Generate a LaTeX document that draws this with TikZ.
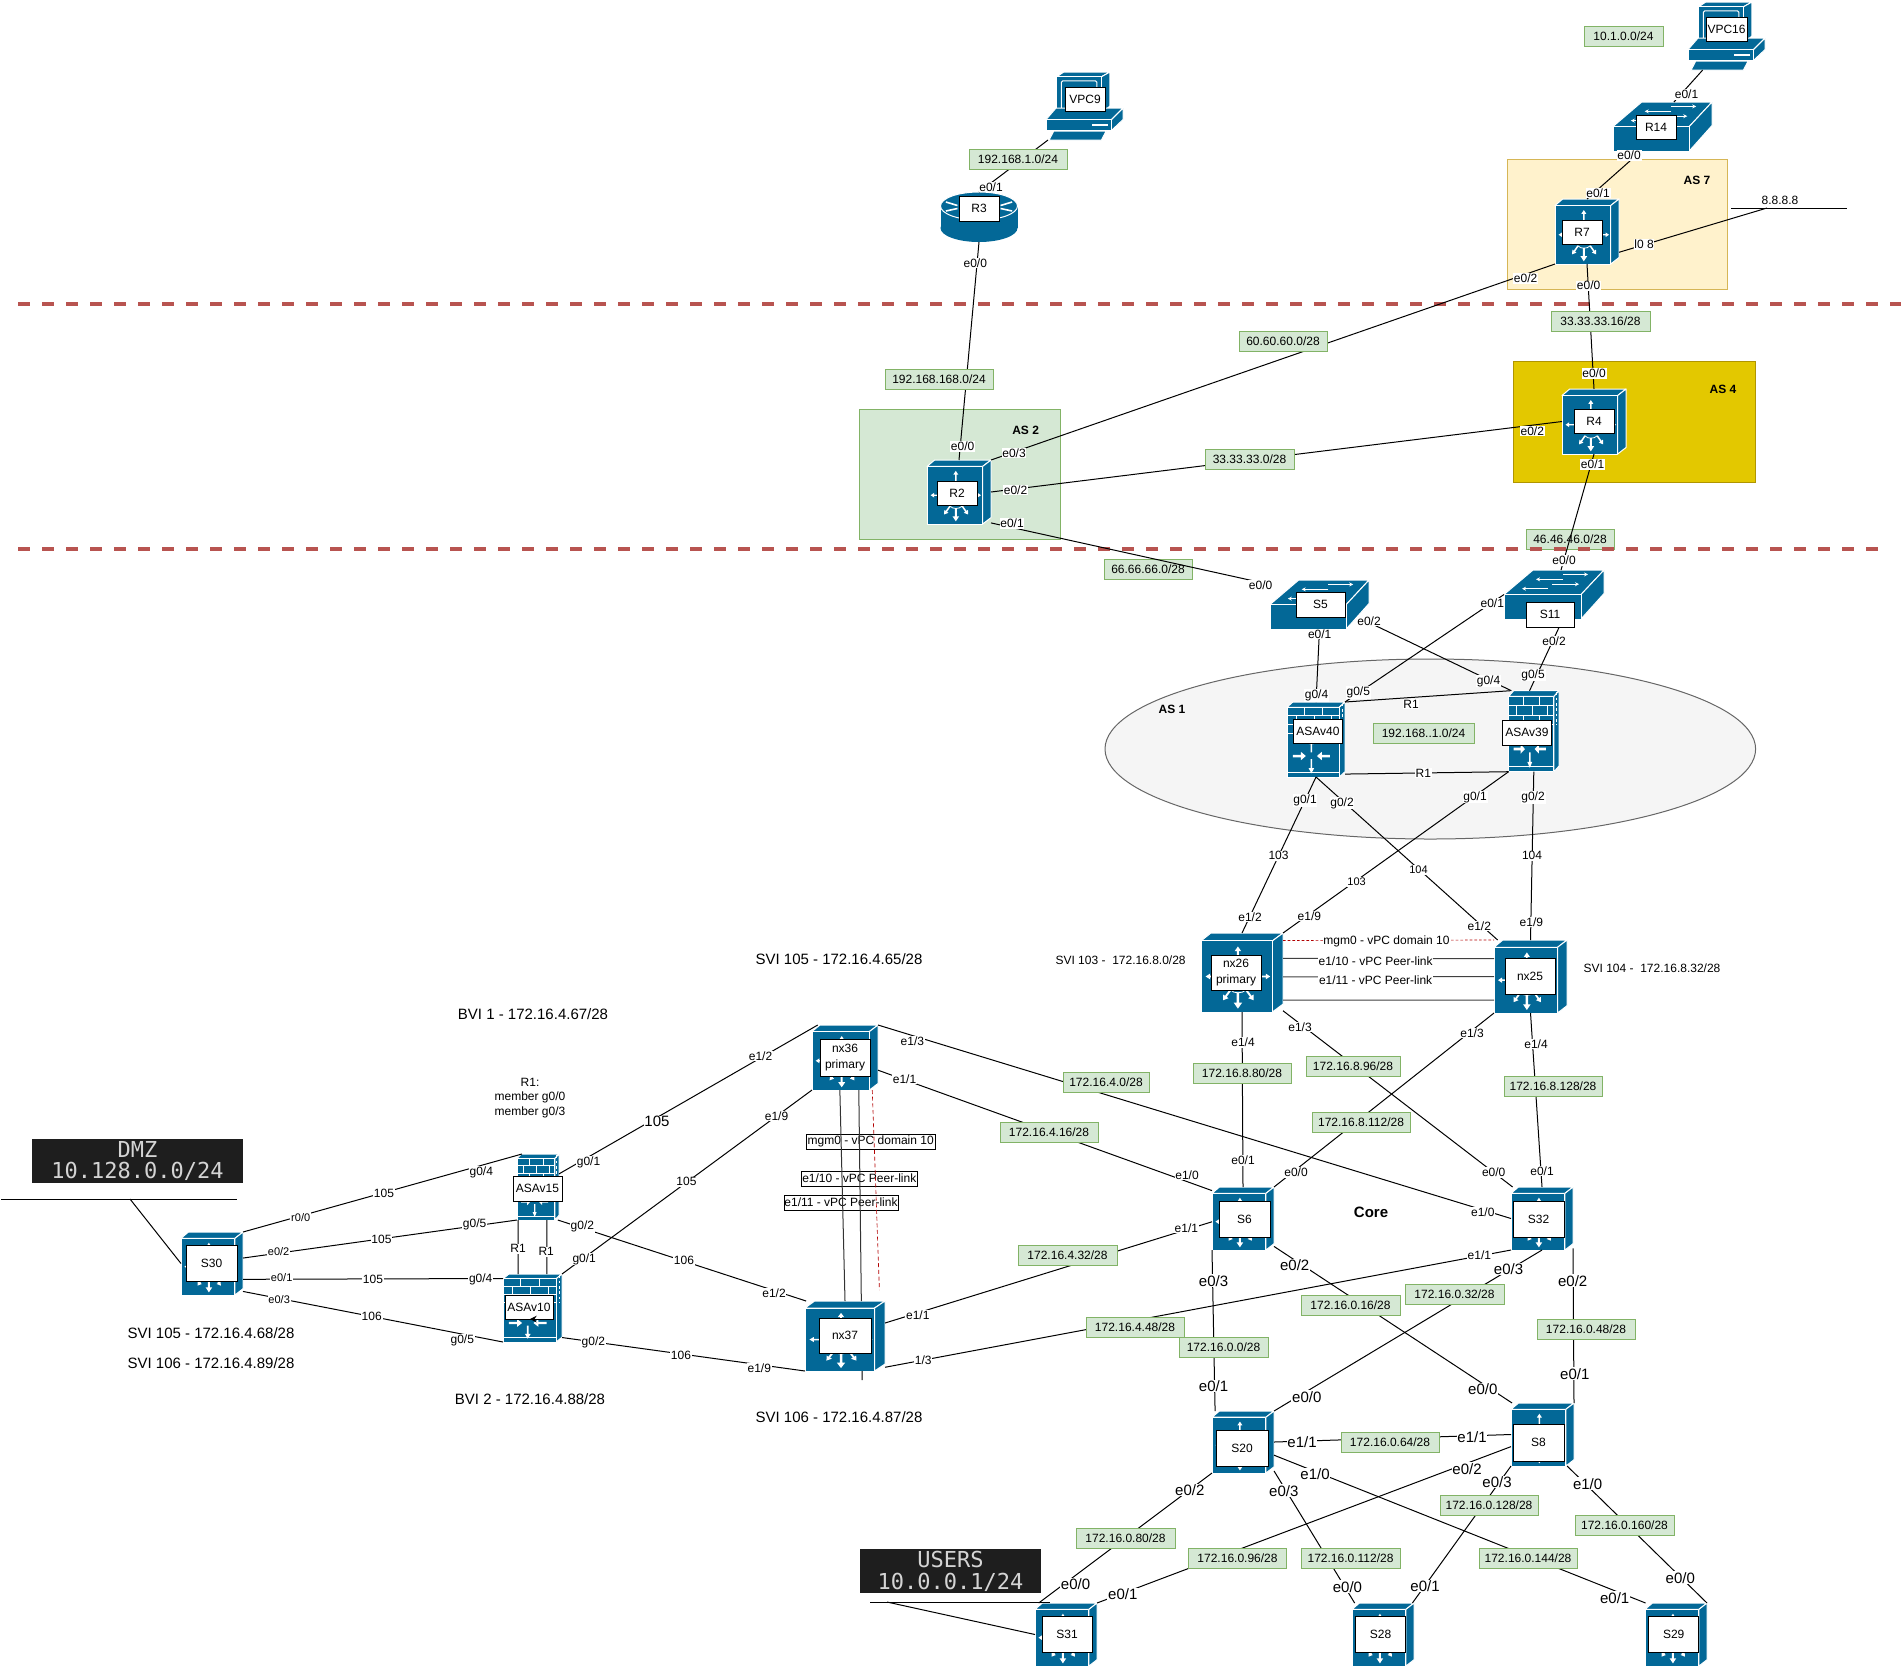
\documentclass[tikz,border=0pt]{standalone}
\usepackage{fontspec}
\setmainfont{Liberation Sans}
\newfontfamily\consolefont{DejaVu Sans Mono}
\usetikzlibrary{arrows.meta}
\definecolor{ciscoblue}{HTML}{036897}
\definecolor{netgreen}{HTML}{D5E8D4}
\definecolor{netedge}{HTML}{82B366}
\definecolor{dashred}{HTML}{B85450}
\definecolor{blackbox}{HTML}{1E1E1E}
\definecolor{areacream}{HTML}{FFF2CC}
\definecolor{areacreamedge}{HTML}{D6B656}
\definecolor{areagold}{HTML}{E3C800}
\definecolor{areagoldedge}{HTML}{B09500}

\tikzset{
	wire/.style={draw=black,line width=0.75pt},
	face/.style={fill=ciscoblue,draw=white,line width=0.75pt,line join=round},
	devlabel/.style={draw=black,fill=white,inner sep=0pt,align=center,line width=0.6pt,font=\fontsize{9}{11.5}\selectfont},
	netbox/.style={draw=netedge,fill=netgreen,inner sep=0pt,line width=0.75pt,minimum height=15pt,minimum width=#1*0.75pt,font=\fontsize{9}{11}\selectfont},
	portlab/.style={fill=white,inner sep=0.6pt,font=\fontsize{9}{10}\selectfont},
	portbig/.style={fill=white,inner sep=0.6pt,font=\fontsize{11.25}{12}\selectfont},
	portsmall/.style={fill=white,inner sep=0.6pt,font=\fontsize{8.25}{9}\selectfont},
	infotext/.style={inner sep=0pt,align=center,font=\fontsize{11.25}{13}\selectfont},
	smalltext/.style={inner sep=0pt,align=center,font=\fontsize{9}{10.9}\selectfont},
	boldtext/.style={inner sep=0pt,font=\fontsize{9}{11}\selectfont\bfseries},
	vpcbox/.style={draw=black,fill=white,inner sep=0pt,minimum height=11.25pt,line width=0.6pt,font=\fontsize{9}{11}\selectfont},
	darklabel/.style={fill=blackbox,text=black!17,inner sep=0pt,align=center,font=\consolefont\fontsize{16.5}{16.3}\selectfont},
	asline/.style={draw=dashred,line width=3pt,dash pattern=on 9pt off 9pt}
}

% one small white arrow: x, y, direction, size
\newcommand{\flecha}[4]{\fill[white,shift={(#1,#2)},rotate=#3,scale=#4] (0,-.012) -- (.1,-.012) -- (.1,-.04) -- (.16,0) -- (.1,.04) -- (.1,.012) -- (0,.012) -- cycle;}

% invisible node over the picture of a device: name, left, top, width, height
\newcommand{\devnode}[5]{\node[inner sep=0pt,outer sep=0pt,minimum width={#4*0.75pt},minimum height={#5*0.75pt}] (#1) at ({#2+#4/2},{#3+#5/2}) {};}

% routing box, tall
\newcommand{\cube}[5]{
	\devnode{#1}{#2}{#3}{#4}{#5}
	\begin{scope}[shift={(#2,#3)},xscale=#4,yscale=#5]
		\filldraw[face] (0,.1) -- (.12,0) -- (1,0) -- (.87,.1) -- cycle;
		\filldraw[face] (1,0) -- (1,.9) -- (.87,1) -- (.87,.1) -- cycle;
		\filldraw[face] (0,.1) rectangle (.87,1);
		\flecha{.45}{.33}{90}{1}
		\flecha{.2}{.55}{180}{.9}
		\flecha{.7}{.55}{0}{.9}
		\flecha{.45}{.75}{-90}{1.3}
		\flecha{.36}{.72}{-125}{1}
		\flecha{.55}{.72}{-55}{1}
		\draw[white,line width=0.6pt] (.36,.72) .. controls (.4,.77) and (.5,.77) .. (.55,.72);
	\end{scope}
}

% firewall box
\newcommand{\fwall}[5]{
	\devnode{#1}{#2}{#3}{#4}{#5}
	\begin{scope}[shift={(#2,#3)},xscale=#4,yscale=#5]
		\filldraw[face] (0,.07) -- (.1,0) -- (1,0) -- (.9,.07) -- cycle;
		\filldraw[face] (1,0) -- (1,.93) -- (.9,1) -- (.9,.07) -- cycle;
		\filldraw[face] (0,.07) rectangle (.9,1);
		\draw[white,line width=0.75pt] (0,.18) -- (.9,.18) (0,.3) -- (.9,.3) (0,.42) -- (.9,.42) (0,.94) -- (.9,.94);
		\draw[white,line width=0.75pt] (.3,.07) -- (.3,.18) (.62,.07) -- (.62,.18) (.16,.18) -- (.16,.3) (.47,.18) -- (.47,.3) (.77,.18) -- (.77,.3) (.3,.3) -- (.3,.42) (.62,.3) -- (.62,.42);
		\draw[white,line width=0.75pt,dash pattern=on 2pt off 2pt] (.95,.02) -- (.95,.42);
		\flecha{.1}{.72}{0}{1.4}
		\flecha{.74}{.72}{180}{1.4}
		\flecha{.42}{.67}{90}{1.1}
		\flecha{.42}{.76}{-90}{1.2}
	\end{scope}
}

% flat switch
\newcommand{\flatswitch}[5]{
	\devnode{#1}{#2}{#3}{#4}{#5}
	\begin{scope}[shift={(#2,#3)},xscale=#4,yscale=#5]
		\filldraw[face] (0,.5) -- (.29,0) -- (1,0) -- (.77,.5) -- cycle;
		\filldraw[face] (1,0) -- (1,.48) -- (.77,1) -- (.77,.5) -- cycle;
		\filldraw[face] (0,.5) rectangle (.77,1);
		\draw[white,line width=0.75pt,-{Stealth[length=3pt,width=3pt]}] (.59,.09) -- (.84,.09);
		\draw[white,line width=0.75pt,-{Stealth[length=3pt,width=3pt]}] (.59,.19) -- (.32,.19);
		\draw[white,line width=0.75pt,-{Stealth[length=3pt,width=3pt]}] (.48,.29) -- (.75,.29);
		\draw[white,line width=0.75pt,-{Stealth[length=3pt,width=3pt]}] (.44,.38) -- (.18,.38);
	\end{scope}
}

% round router
\newcommand{\roundrouter}[5]{
	\devnode{#1}{#2}{#3}{#4}{#5}
	\begin{scope}[shift={(#2,#3)},xscale=#4,yscale=#5]
		\fill[ciscoblue] (.5,.72) ellipse (.5 and .28);
		\fill[ciscoblue] (0,.28) rectangle (1,.72);
		\filldraw[face] (.5,.28) ellipse (.5 and .28);
		\draw[white,line width=1.2pt] (.07,.2) -- (.22,.27) (.93,.2) -- (.78,.27) (.07,.38) -- (.22,.33) (.93,.38) -- (.78,.33);
	\end{scope}
}

% desktop pc
\newcommand{\desktop}[5]{
	\devnode{#1}{#2}{#3}{#4}{#5}
	\begin{scope}[shift={(#2,#3)},xscale=#4,yscale=#5]
		\filldraw[face] (.14,.07) -- (.23,0) -- (.83,0) -- (.72,.07) -- cycle;
		\filldraw[face] (.83,0) -- (.83,.5) -- (.72,.61) -- (.72,.07) -- cycle;
		\filldraw[face] (.14,.07) rectangle (.72,.61);
		\draw[white,line width=0.75pt,rounded corners=1pt] (.2,.13) rectangle (.66,.55);
		\filldraw[face] (0,.7) -- (.13,.53) -- (1,.53) -- (.85,.7) -- cycle;
		\filldraw[face] (1,.53) -- (1,.7) -- (.85,.86) -- (.85,.7) -- cycle;
		\filldraw[face] (0,.7) rectangle (.85,.86);
		\draw[white,line width=1pt] (.6,.78) -- (.8,.78);
		\filldraw[face] (.04,1) -- (.1,.87) -- (.78,.87) -- (.72,1) -- cycle;
	\end{scope}
}

\begin{document}
\begin{tikzpicture}[x=0.75pt,y=-0.75pt]
	\useasboundingbox (0,0) rectangle (1901,1668);

	% areas
	\draw[fill=netgreen,draw=netedge,line width=0.75pt] (859,409) rectangle (1060,539);
	\draw[fill=areacream,draw=areacreamedge,line width=0.75pt] (1507.5,159) rectangle (1727,289);
	\draw[fill=areagold,draw=areagoldedge,line width=0.75pt] (1513.5,361.5) rectangle (1755.5,482);
	\draw[fill=black!4,draw=black!60,line width=0.75pt] (1430.3,749) ellipse (325.3 and 90);

	% nets that lie under their lines
	\node[netbox=88] (net46) at (1570,539) {46.46.46.0/28};
	\node[netbox=88] (net66) at (1148,569.5) {66.66.66.0/28};

	% borders of the AS
	\coordinate (dashAl) at (18,304);
	\coordinate (dashAr) at (1901,304);
	\coordinate (dashBl) at (18,549);
	\coordinate (dashBr) at (1880,549);
	\draw[asline] (dashAl) -- (dashAr);
	\draw[asline] (dashBl) -- (dashBr);

	% top
	\desktop{VPC9}{1046}{72}{77}{68}
	\desktop{VPC16}{1688}{2}{77}{68}
	\flatswitch{R14}{1613}{102}{99}{49}
	\roundrouter{R3}{940.5}{192}{77}{50}
	\cube{R7}{1555}{199}{64}{65}
	\cube{R4}{1562}{389}{64}{65}
	\cube{R2}{927}{460}{64}{64}

	% AS 1
	\flatswitch{S5}{1270}{580}{99}{49}
	\flatswitch{S11}{1504}{570}{100}{49}
	\fwall{ASAv40}{1287}{702}{58}{75}
	\fwall{ASAv39}{1508.6}{690.7}{50.4}{81}

	% distribution
	\cube{nx26}{1201}{933}{82}{79}
	\cube{nx25}{1494}{940}{73}{73}
	\cube{nx36}{812}{1025}{66}{65}
	\cube{nx37}{805}{1301}{80}{70}
	\cube{S30}{181}{1232}{62}{63}
	\fwall{ASAv15}{517}{1154}{42}{66}
	\fwall{ASAv10}{503}{1274}{59}{68}

	% core
	\cube{S6}{1212}{1187}{62}{63}
	\cube{S32}{1511}{1187}{62}{63}
	\cube{S20}{1212}{1411}{62}{62}
	\cube{S8}{1511}{1403}{63}{63}
	\cube{S31}{1035}{1603}{62}{63}
	\cube{S28}{1352}{1603}{62}{63}
	\cube{S29}{1645}{1603}{62}{63}

	% free ends
	\coordinate (inetA) at (1731,208);
	\coordinate (inetB) at (1847,208);
	\coordinate (inet) at (1767,208);
	\coordinate (dmzA) at (1,1199);
	\coordinate (dmzB) at (237,1199);
	\coordinate (dmz) at (130,1199);
	\coordinate (usrA) at (870,1602);
	\coordinate (usrB) at (1050,1602);
	\coordinate (usr) at (887,1602);
	\coordinate (nx37red) at (879.4,1290);
	\coordinate (nx37end) at (862,1380);
	\coordinate (asaArrA) at (539,1319);
	\coordinate (asaArrB) at (530,1319);

	% links on top
	\draw[wire] (VPC9.223) -- (R3.north);
	\draw[wire] (R3.south) -- (R2.north);
	\draw[wire] (VPC16.235) -- (R14.65);
	\draw[wire] (R14.229) -- (R7.north);
	\draw[wire] (R7.south) -- (R4.north);
	\draw[wire] (R7.south west) -- (R2.north east);
	\draw[wire] (R4.west) -- (R2.east);
	\draw[wire] (R7.327) -- (inet);
	\draw[wire] (inetA) -- (inetB);
	\draw[wire] (R2.316) -- (S5.158);
	\draw[wire] (R4.south) -- (S11.74);

	% links AS 1
	\draw[wire] (S5.south) -- (ASAv40.north);
	\draw[wire] (S5.340) -- (ASAv39.119);
	\draw[wire] (S11.290) -- (ASAv39.96);
	\draw[wire] (S11.west) -- (ASAv40.north east);
	\draw[wire] (ASAv40.north east) -- (ASAv39.120);
	\draw[wire] (ASAv40.310) -- (ASAv39.south west);
	\draw[wire] (ASAv40.south) -- (nx26.north);
	\draw[wire] (ASAv40.south) -- (nx25.132);
	\draw[wire] (ASAv39.south west) -- (nx26.north east);
	\draw[wire] (ASAv39.south) -- (nx25.north);

	% vpc right
	\draw[draw=red!70!black,line width=0.5pt,dash pattern=on 2pt off 1.5pt] (nx26.38) -- (nx25.135);
	\draw[wire,draw=black!75] (nx26.19) -- (nx25.154);
	\draw[wire,draw=black!75] (nx26.354) -- (nx25.180);
	\draw[wire,draw=black!75] (nx26.326) -- (nx25.213);

	% links down to the core
	\draw[wire] (nx26.south) -- (S6.north);
	\draw[wire] (nx26.317) -- (S32.133);
	\draw[wire] (nx25.south west) -- (S6.north east);
	\draw[wire] (nx25.south) -- (S32.north);
	\draw[wire] (nx36.north east) -- (S32.west);
	\draw[wire] (nx36.339) -- (S6.138);
	\draw[wire] (nx37.18) -- (S6.186);
	\draw[wire] (nx37.322) -- (S32.south west);

	% links in the core
	\draw[wire] (S6.south west) -- (S20.132);
	\draw[wire] (S6.318) -- (S8.134);
	\draw[wire] (S32.south) -- (S20.north east);
	\draw[wire] (S32.316) -- (S8.north east);
	\draw[wire] (S20.east) -- (S8.west);
	\draw[wire] (S20.337) -- (S29.134);
	\draw[wire] (S20.south west) -- (S31.131);
	\draw[wire] (S20.317) -- (S28.132);
	\draw[wire] (S8.201) -- (S31.north east);
	\draw[wire] (S8.south west) -- (S28.47);
	\draw[wire] (S8.308) -- (S29.north east);

	% links left
	\draw[wire] (S30.north east) -- (ASAv15.116);
	\draw[wire] (S30.10) -- (ASAv15.south west);
	\draw[wire] (S30.333) -- (ASAv10.135);
	\draw[wire] (S30.318) -- (ASAv10.south west);
	\draw[wire] (ASAv15.32) -- (nx36.130);
	\draw[wire] (ASAv10.north east) -- (nx36.south west);
	\draw[wire] (ASAv15.301) -- (nx37.138);
	\draw[wire] (ASAv10.315) -- (nx37.south west);
	\draw[wire] (ASAv15.239) -- (ASAv10.113);
	\draw[wire] (ASAv15.285) -- (ASAv10.67);
	\draw[wire] (dmzA) -- (dmzB);
	\draw[wire] (dmz) -- (S30.west);
	\draw[wire] (usrA) -- (usrB);
	\draw[wire] (usr) -- (S31.west);
	\draw[wire] (nx37.296) -- (nx37end);

	% nets
	\node[netbox=79] (net10) at (1623.5,36) {10.1.0.0/24};
	\node[netbox=98] (net192a) at (1018,159) {192.168.1.0/24};
	\node[netbox=99] (net33b) at (1600.5,321) {33.33.33.16/28};
	\node[netbox=88] (net60) at (1283,341.5) {60.60.60.0/28};
	\node[netbox=108] (net192b) at (939,379) {192.168.168.0/24};
	\node[netbox=89] (net33a) at (1249.5,459.5) {33.33.33.0/28};
	\node[netbox=101] (net192c) at (1423.5,733) {192.168..1.0/24};
	\node[netbox=98] (net880) at (1242,1073) {172.16.8.80/28};
	\node[netbox=94] (net896) at (1353,1066) {172.16.8.96/28};
	\node[netbox=98] (net8112) at (1361,1122) {172.16.8.112/28};
	\node[netbox=98] (net8128) at (1553,1086.5) {172.16.8.128/28};
	\node[netbox=86] (net40) at (1106,1082) {172.16.4.0/28};
	\node[netbox=98] (net416) at (1049,1132) {172.16.4.16/28};
	\node[netbox=99] (net432) at (1067.5,1255) {172.16.4.32/28};
	\node[netbox=99] (net032) at (1454.5,1294) {172.16.0.32/28};
	\node[netbox=99] (net016) at (1350.5,1305) {172.16.0.16/28};
	\node[netbox=98] (net048) at (1586,1329) {172.16.0.48/28};
	\node[netbox=98] (net448) at (1135,1327) {172.16.4.48/28};
	\node[netbox=89] (net00) at (1223.5,1347) {172.16.0.0/28};
	\node[netbox=98] (net064) at (1390,1442) {172.16.0.64/28};
	\node[netbox=98] (net0128) at (1489,1505) {172.16.0.128/28};
	\node[netbox=99] (net0160) at (1624.5,1525) {172.16.0.160/28};
	\node[netbox=99] (net080) at (1125.5,1538) {172.16.0.80/28};
	\node[netbox=98] (net096) at (1237.5,1558) {172.16.0.96/28};
	\node[netbox=99] (net0112) at (1350.5,1558) {172.16.0.112/28};
	\node[netbox=98] (net0144) at (1528,1558) {172.16.0.144/28};

	% ports on top
	\node[portlab] (p1) at (1686.5,94.6) {e0/1};
	\node[portlab] (p2) at (1629,155.4) {e0/0};
	\node[portlab] (p3) at (1598,193) {e0/1};
	\node[portlab] (p4) at (991,187) {e0/1};
	\node[portlab] (p5) at (975.3,263) {e0/0};
	\node[portlab] (p6) at (1644,244.6) {l0 8};
	\node[portlab] (p7) at (1525.6,278.6) {e0/2};
	\node[portlab] (p8) at (1588.6,285.7) {e0/0};
	\node[portlab] (p9) at (1594,373.6) {e0/0};
	\node[portlab] (p10) at (1532.3,431) {e0/2};
	\node[portlab] (p11) at (1592.6,464.3) {e0/1};
	\node[portlab] (p12) at (962.6,446.4) {e0/0};
	\node[portlab] (p13) at (1014,453) {e0/3};
	\node[portlab] (p14) at (1015.5,490) {e0/2};
	\node[portlab] (p15) at (1012,523.6) {e0/1};

	% ports AS 1
	\node[portlab] (p16) at (1564,560.3) {e0/0};
	\node[portlab] (p17) at (1260.6,585.3) {e0/0};
	\node[portlab] (p18) at (1492.3,603.3) {e0/1};
	\node[portlab] (p19) at (1369,620.7) {e0/2};
	\node[portlab] (p20) at (1319.7,634) {e0/1};
	\node[portlab] (p21) at (1554,640.7) {e0/2};
	\node[portlab] (p22) at (1533,675) {g0/5};
	\node[portlab] (p23) at (1488.5,681) {g0/4};
	\node[portlab] (p24) at (1358.3,692.3) {g0/5};
	\node[portlab] (p25) at (1316.5,695.7) {g0/4};
	\node[portlab] (p26) at (1411,704) {R1};
	\node[portlab] (p27) at (1423.3,773.3) {R1};
	\node[portlab] (p28) at (1305,800.7) {g0/1};
	\node[portlab] (p29) at (1342,803) {g0/2};
	\node[portlab] (p30) at (1475,797) {g0/1};
	\node[portlab] (p31) at (1533,797.7) {g0/2};
	\node[portlab] (p32) at (1278.5,855.7) {103};
	\node[portsmall] (p33) at (1356.6,882) {103};
	\node[portsmall] (p34) at (1418.5,870) {104};
	\node[portlab] (p35) at (1532,855.7) {104};
	\node[portlab] (p36) at (1250,916.7) {e1/2};
	\node[portlab] (p37) at (1309.4,915.7) {e1/9};
	\node[portlab] (p38) at (1479.3,925.7) {e1/2};
	\node[portlab] (p39) at (1531.4,921.7) {e1/9};
	\node[portlab] (p40) at (1386.5,941.7) {mgm0 - vPC domain 10};
	\node[portlab] (p41) at (1375.6,960.7) {e1/10 - vPC Peer-link};
	\node[portlab] (p42) at (1375.6,980) {e1/11 - vPC Peer-link};

	% ports above the core
	\node[portlab] (p43) at (1300,1026.7) {e1/3};
	\node[portlab] (p44) at (1472,1033) {e1/3};
	\node[portlab] (p45) at (1243,1042.6) {e1/4};
	\node[portlab] (p46) at (1536,1044) {e1/4};
	\node[portlab] (p47) at (1243,1160.3) {e0/1};
	\node[portlab] (p48) at (1296,1172.4) {e0/0};
	\node[portlab] (p49) at (1493.7,1172.4) {e0/0};
	\node[portlab] (p50) at (1542,1171) {e0/1};
	\node[portlab] (p51) at (1482.8,1212) {e1/0};
	\node[portlab] (p52) at (1187,1175) {e1/0};
	\node[portlab] (p53) at (1186.4,1227.7) {e1/1};
	\node[portlab] (p54) at (1479.4,1254.7) {e1/1};
	\node[portlab] (p55) at (917.8,1315) {e1/1};
	\node[portlab] (p56) at (923.2,1360) {1/3};

	% ports in the core
	\node[portbig] (p57) at (1213.5,1280.7) {e0/3};
	\node[portbig] (p58) at (1294.7,1265) {e0/2};
	\node[portbig] (p59) at (1508.5,1269) {e0/3};
	\node[portbig] (p60) at (1572.7,1280.7) {e0/2};
	\node[portbig] (p61) at (1213.5,1386) {e0/1};
	\node[portbig] (p62) at (1306.8,1396.7) {e0/0};
	\node[portbig] (p63) at (1482.8,1389) {e0/0};
	\node[portbig] (p64) at (1574.8,1373.7) {e0/1};
	\node[portbig] (p65) at (1302,1441.7) {e1/1};
	\node[portbig] (p66) at (1472,1436.7) {e1/1};
	\node[portbig] (p67) at (1315,1474) {e1/0};
	\node[portbig] (p68) at (1467,1468.7) {e0/2};
	\node[portbig] (p69) at (1497,1482) {e0/3};
	\node[portbig] (p70) at (1587.6,1483.7) {e1/0};
	\node[portbig] (p71) at (1189.8,1490) {e0/2};
	\node[portbig] (p72) at (1283.8,1490.7) {e0/3};
	\node[portbig] (p73) at (1075.5,1584) {e0/0};
	\node[portbig] (p74) at (1122.8,1594) {e0/1};
	\node[portbig] (p75) at (1347.4,1586.7) {e0/0};
	\node[portbig] (p76) at (1425,1586) {e0/1};
	\node[portbig] (p77) at (1614.7,1597.7) {e0/1};
	\node[portbig] (p78) at (1680.3,1577.7) {e0/0};

	% ports left
	\node[portsmall] (p79) at (300.7,1217.3) {r0/0};
	\node[portlab] (p80) at (384,1193.7) {105};
	\node[portlab] (p81) at (481.3,1172) {g0/4};
	\node[portsmall] (p82) at (278.6,1252) {e0/2};
	\node[portlab] (p83) at (381.5,1239.3) {105};
	\node[portlab] (p84) at (474.6,1224) {g0/5};
	\node[portsmall] (p85) at (281.7,1277.3) {e0/1};
	\node[portlab] (p86) at (373,1279.7) {105};
	\node[portlab] (p87) at (480.7,1279) {g0/4};
	\node[portsmall] (p88) at (279.2,1300) {e0/3};
	\node[portlab] (p89) at (371.7,1316.7) {106};
	\node[portlab] (p90) at (462.3,1340) {g0/5};
	\node[portlab] (p91) at (588.5,1162) {g0/1};
	\node[portbig] (p92) at (657,1121.7) {105};
	\node[portlab] (p93) at (760.5,1056) {e1/2};
	\node[portlab] (p94) at (912.4,1040.7) {e1/3};
	\node[portlab] (p95) at (904.5,1078.7) {e1/1};
	\node[portlab] (p96) at (776.5,1115.7) {e1/9};
	\node[portlab] (p97) at (686.5,1181.7) {105};
	\node[portlab] (p98) at (584.2,1259) {g0/1};
	\node[portlab] (p99) at (582.4,1226.7) {g0/2};
	\node[portlab] (p100) at (684,1260.7) {106};
	\node[portlab] (p101) at (774,1292.7) {e1/2};
	\node[portlab] (p102) at (593.4,1342.7) {g0/2};
	\node[portlab] (p103) at (681,1355.7) {106};
	\node[portlab] (p104) at (759.3,1367.7) {e1/9};
	\node[portlab] (p105) at (518,1248.7) {R1};
	\node[portlab] (p106) at (546.2,1251.7) {R1};

	% device names
	\node[devlabel,minimum width=30pt,minimum height=18pt] (VPC9t) at (1085,99.5) {VPC9};
	\node[devlabel,minimum width=30.75pt,minimum height=18pt] (VPC16t) at (1726.5,29) {VPC16};
	\node[devlabel,minimum width=30pt,minimum height=18pt] (R14t) at (1656,127) {R14};
	\node[devlabel,minimum width=30pt,minimum height=18.75pt] (R3t) at (979,208.5) {R3};
	\node[devlabel,minimum width=30pt,minimum height=18pt] (R7t) at (1582,232) {R7};
	\node[devlabel,minimum width=30pt,minimum height=18pt] (R4t) at (1594,421.5) {R4};
	\node[devlabel,minimum width=30pt,minimum height=18pt] (R2t) at (957,493) {R2};
	\node[devlabel,minimum width=36.75pt,minimum height=18.75pt] (S5t) at (1320.5,604.5) {S5};
	\node[devlabel,minimum width=36pt,minimum height=18.75pt] (S11t) at (1550,614.5) {S11};
	\node[devlabel,minimum width=36.75pt,minimum height=18pt] (ASAv40t) at (1318,731) {ASAv40};
	\node[devlabel,minimum width=36.75pt,minimum height=18.75pt] (ASAv39t) at (1527,732.5) {ASAv39};
	\node[devlabel,minimum width=37.5pt,minimum height=26.25pt] (nx26t) at (1236,972.5) {nx26\\primary};
	\node[devlabel,minimum width=37.5pt,minimum height=27pt] (nx25t) at (1530,976) {nx25};
	\node[devlabel,minimum width=37.5pt,minimum height=27.75pt] (nx36t) at (845,1057.5) {nx36\\primary};
	\node[devlabel,minimum width=39pt,minimum height=26.25pt] (nx37t) at (845,1335.5) {nx37};
	\node[devlabel,minimum width=38.25pt,minimum height=27pt] (S30t) at (211.5,1263) {S30};
	\node[devlabel,minimum width=36.75pt,minimum height=18.75pt] (ASAv15t) at (537.5,1188.5) {ASAv15};
	\node[devlabel,minimum width=36pt,minimum height=18pt] (ASAv10t) at (529,1307) {ASAv10};
	\node[devlabel,minimum width=38.25pt,minimum height=27pt] (S6t) at (1244.5,1219) {S6};
	\node[devlabel,minimum width=38.25pt,minimum height=27pt] (S32t) at (1538.5,1219) {S32};
	\node[devlabel,minimum width=39pt,minimum height=27pt] (S20t) at (1242,1448) {S20};
	\node[devlabel,minimum width=38.25pt,minimum height=27.75pt] (S8t) at (1538.5,1442.5) {S8};
	\node[devlabel,minimum width=37.5pt,minimum height=27pt] (S31t) at (1067,1634) {S31};
	\node[devlabel,minimum width=37.5pt,minimum height=27pt] (S28t) at (1380.6,1634) {S28};
	\node[devlabel,minimum width=37.5pt,minimum height=27pt] (S29t) at (1673.7,1634) {S29};
	\draw[-{Stealth[length=5pt,width=5pt]},line width=0.75pt] (asaArrA) -- (asaArrB);

	% vpc left, the lines run over the boxes
	\node[vpcbox,minimum width=96.5pt] (vpcA) at (870.7,1141.5) {mgm0 - vPC domain 10};
	\node[vpcbox,minimum width=86.5pt] (vpcB) at (859.3,1178.5) {e1/10 - vPC Peer-link};
	\node[vpcbox,minimum width=85.5pt] (vpcC) at (841,1202.5) {e1/11 - vPC Peer-link};
	\draw[wire,draw=black!80] (nx36.261) -- (nx37.90);
	\draw[wire,draw=black!80] (nx36.293) -- (nx37.65);
	\draw[draw=red!70!black,line width=0.5pt,dash pattern=on 3pt off 2pt] (nx36.310) -- (nx37red);

	% texts
	\node[boldtext] (as7) at (1697,180) {AS 7};
	\node[boldtext] (as4) at (1723,389) {AS 4};
	\node[boldtext] (as2) at (1025.6,430) {AS 2};
	\node[boldtext] (as1) at (1172,709) {AS 1};
	\node[boldtext,font=\fontsize{11.25}{13}\selectfont\bfseries] (core) at (1371,1212) {Core};
	\node[smalltext] (inetlab) at (1780,200.7) {8.8.8.8};
	\node[infotext] (svi105a) at (839,959) {SVI 105 - 172.16.4.65/28};
	\node[infotext] (bvi1) at (533,1014) {BVI 1 - 172.16.4.67/28};
	\node[smalltext] (r1note) at (530,1098) {R1:\\member g0/0\\member g0/3};
	\node[infotext] (svi105b) at (211,1333) {SVI 105 - 172.16.4.68/28};
	\node[infotext] (svi106b) at (211,1363) {SVI 106 - 172.16.4.89/28};
	\node[infotext] (bvi2) at (530,1399) {BVI 2 - 172.16.4.88/28};
	\node[infotext] (svi106a) at (839,1417) {SVI 106 - 172.16.4.87/28};
	\node[smalltext] (svi103) at (1120.6,960) {SVI 103 -\ \ 172.16.8.0/28};
	\node[smalltext] (svi104) at (1652,968) {SVI 104 -\ \ 172.16.8.32/28};

	% black boxes
	\node[darklabel,minimum width=158.25pt,minimum height=33pt] (dmzt) at (137.5,1161) {DMZ\\10.128.0.0/24};
	\node[darklabel,minimum width=135.75pt,minimum height=33pt] (usert) at (950.5,1571) {USERS\\10.0.0.1/24};
\end{tikzpicture}
\end{document}
